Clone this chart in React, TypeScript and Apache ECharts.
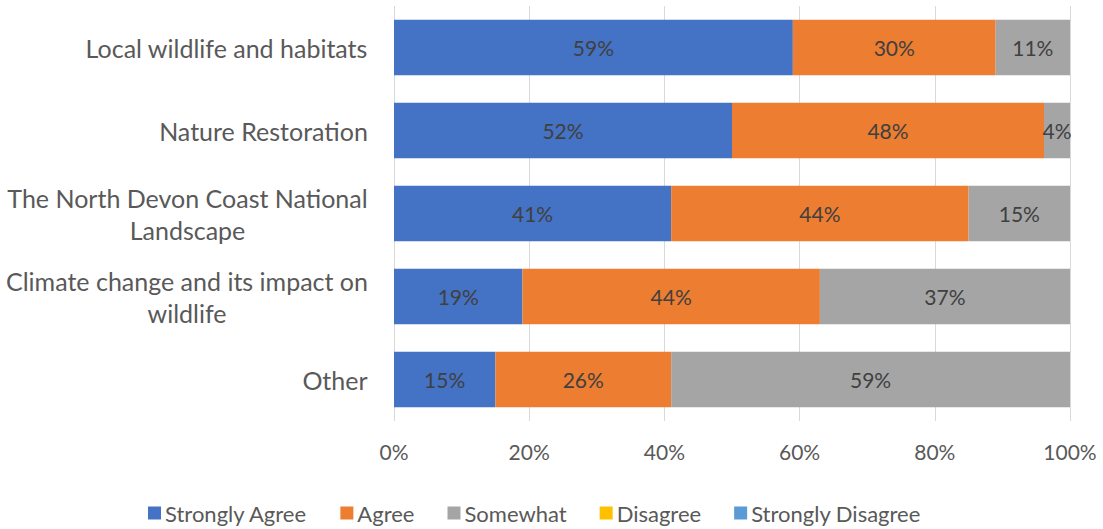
import React, { useEffect, useRef } from "react";
import * as echarts from "echarts";

const categories = [
  "Local wildlife and habitats",
  "Nature Restoration",
  "The North Devon Coast National Landscape",
  "Climate change and its impact on wildlife",
  "Other",
];
const categoryLines = [
  ["Local wildlife and habitats"],
  ["Nature Restoration"],
  ["The North Devon Coast National", "Landscape"],
  ["Climate change and its impact on", "wildlife"],
  ["Other"],
];
const seriesNames = ["Strongly Agree", "Agree", "Somewhat", "Disagree", "Strongly Disagree"];
const stronglyAgree = [59, 52, 41, 19, 15];
const agree = [30, 48, 44, 44, 26];
const somewhat = [11, 4, 15, 37, 59];
const disagree = [0, 0, 0, 0, 0];
const stronglyDisagree = [0, 0, 0, 0, 0];
const colors = ["#4472C4", "#ED7D31", "#A5A5A5", "#FFC000", "#5B9BD5"];
const xTicks = [0, 20, 40, 60, 80, 100];

const FONT = "Lato, 'Open Sans', sans-serif";
const Y_FONT_SIZE = 25;

function measure(text: string): number {
  const c = document.createElement("canvas").getContext("2d");
  if (!c) return text.length * Y_FONT_SIZE * 0.5;
  c.font = `${Y_FONT_SIZE}px ${FONT}`;
  return c.measureText(text).width;
}

export default function App() {
  const ref = useRef<HTMLDivElement>(null);
  useEffect(() => {
    if (!ref.current) return;
    const chart = echarts.init(ref.current, null, { renderer: "svg" });
    const raw = [stronglyAgree, agree, somewhat, disagree, stronglyDisagree];
    const totals = categories.map((_, i) => raw.reduce((s, arr) => s + arr[i], 0));
    const series = raw.map((arr, si) => ({
      name: seriesNames[si],
      type: "bar",
      stack: "total",
      barCategoryGap: "33%",
      itemStyle: { color: colors[si] },
      label: {
        show: si < 3,
        position: "inside",
        color: "#404040",
        fontSize: 21,
        fontFamily: FONT,
        formatter: (p: any) => `${arr[p.dataIndex]}%`,
      },
      data: arr.map((v, i) => (v / totals[i]) * 100),
    }));
    const rich: Record<string, any> = {};
    categoryLines.forEach((lines, i) => {
      const w = Math.ceil(Math.max(...lines.map(measure)));
      rich[`r${i}`] = {
        width: w,
        align: "center",
        fontSize: Y_FONT_SIZE,
        fontFamily: FONT,
        color: "#595959",
        lineHeight: 32,
      };
    });
    chart.setOption({
      animation: false,
      textStyle: { fontFamily: FONT },
      grid: { left: 394, right: 33, top: 6, bottom: 108, containLabel: false },
      legend: {
        bottom: 0,
        left: 143,
        itemWidth: 13,
        itemHeight: 13,
        itemGap: 33,
        icon: "rect",
        textStyle: { fontSize: 22, color: "#595959", fontFamily: FONT, padding: [0, 0, 0, -1] },
        data: seriesNames,
      },
      xAxis: {
        type: "value",
        min: xTicks[0],
        max: xTicks[xTicks.length - 1],
        interval: 20,
        axisLine: { show: false },
        axisTick: { show: false },
        splitLine: { lineStyle: { color: "#D9D9D9", width: 1 } },
        axisLabel: {
          color: "#595959",
          fontSize: 21,
          fontFamily: FONT,
          margin: 20,
          formatter: (v: number) => `${v}%`,
        },
      },
      yAxis: {
        type: "category",
        inverse: true,
        data: categories,
        axisLine: { show: false },
        axisTick: { show: false },
        axisLabel: {
          color: "#595959",
          fontSize: Y_FONT_SIZE,
          fontFamily: FONT,
          margin: 26,
          align: "right",
          lineHeight: 32,
          formatter: (_v: string, i: number) =>
            categoryLines[i].map((l) => `{r${i}|${l}}`).join("\n"),
          rich,
        },
      },
      series,
    });
    return () => chart.dispose();
  }, []);
  return (
    <div
      ref={ref}
      style={{ position: "fixed", left: 0, top: 0, width: 1103, height: 529, background: "#fff" }}
    />
  );
}
